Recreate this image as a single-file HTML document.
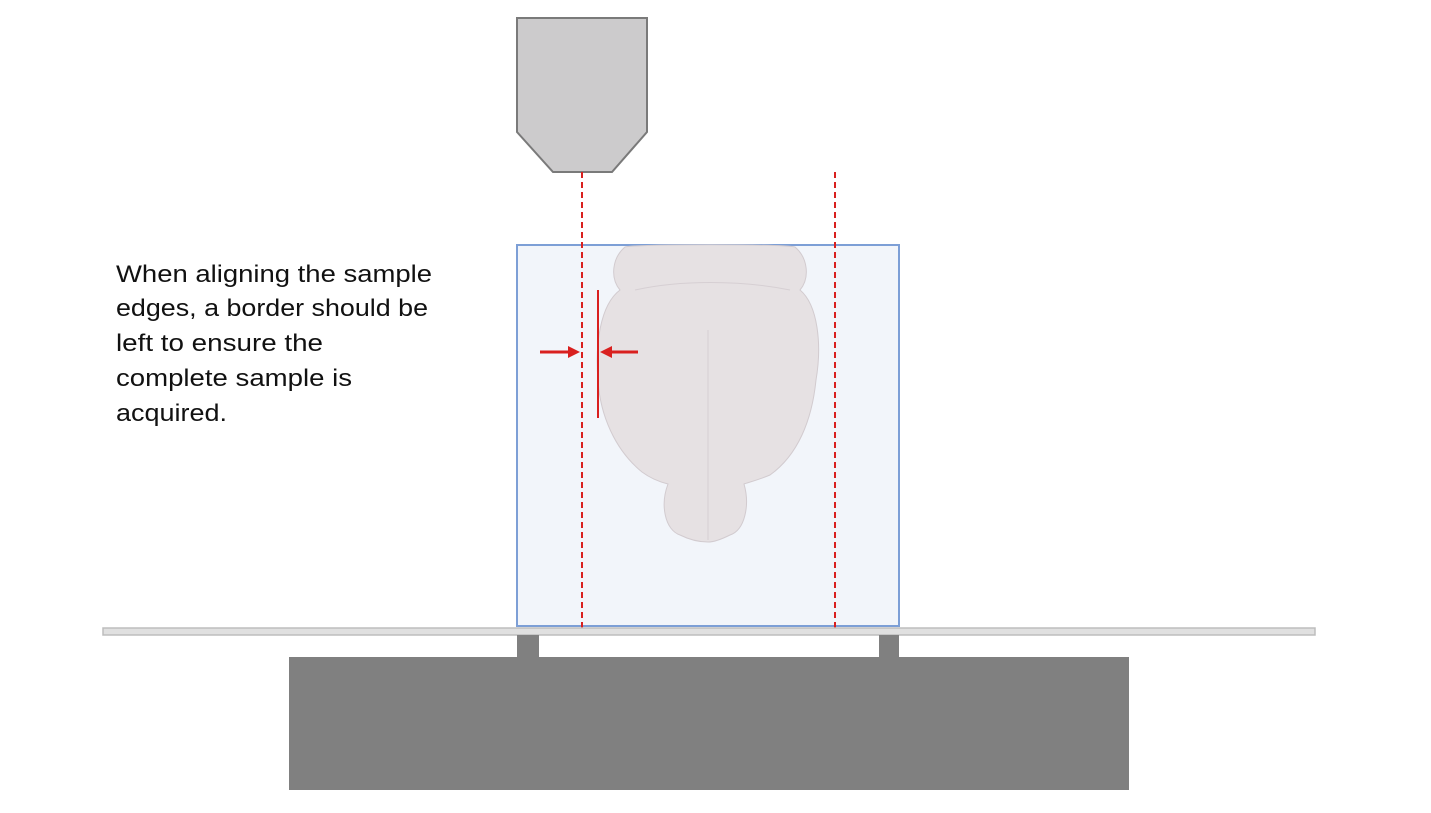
<!DOCTYPE html>
<html><head><meta charset="utf-8"><style>
html,body{margin:0;padding:0;background:#fff;}
svg{display:block;}
text{font-family:"Liberation Sans",sans-serif;}
</style></head><body>
<svg width="1431" height="813" viewBox="0 0 1431 813">
<polygon points="517,18 647,18 647,132 612,172 553,172 517,132" fill="#cccbcc" stroke="#7a7a7a" stroke-width="2"/>
<rect x="517" y="245" width="382" height="381" fill="#f2f5fa" stroke="#7d9fd6" stroke-width="2"/>
<g fill="#e6e1e3" stroke="#d2cbcf" stroke-width="1">
<path d="M625,247 C640,244 780,244 795,247 C808,258 810,278 800,290 C818,305 822,345 816,380 C812,420 798,455 770,475 C758,480 750,482 744,484 C750,505 745,530 730,535 C720,540 712,542 708,542 C700,542 690,540 680,535 C665,530 660,505 668,484 C660,482 650,478 642,472 C615,450 600,415 598,380 C595,345 600,305 620,290 C610,278 612,258 625,247 Z"/>
<path d="M708,330 L708,540" fill="none" stroke="#d6cfd3"/>
<path d="M635,290 C680,280 740,280 790,290" fill="none" stroke="#d6cfd3"/>
</g>
<line x1="582" y1="172" x2="582" y2="628" stroke="#d9201f" stroke-width="2" stroke-dasharray="6,4"/>
<line x1="835" y1="172" x2="835" y2="628" stroke="#d9201f" stroke-width="2" stroke-dasharray="6,4"/>
<line x1="598" y1="290" x2="598" y2="418" stroke="#d9201f" stroke-width="2"/>
<g fill="#d9201f" stroke="#d9201f">
<line x1="540" y1="352" x2="570" y2="352" stroke-width="3"/>
<polygon points="568,346 580,352 568,358" stroke="none"/>
<line x1="638" y1="352" x2="610" y2="352" stroke-width="3"/>
<polygon points="612,346 600,352 612,358" stroke="none"/>
</g>
<rect x="103" y="628" width="1212" height="7" fill="#e0e0e0" stroke="#bdbdbd" stroke-width="1.5"/>
<rect x="517" y="635" width="22" height="22" fill="#808080"/>
<rect x="879" y="635" width="20" height="22" fill="#808080"/>
<rect x="289" y="657" width="840" height="133" fill="#808080"/>
<g font-size="24" fill="#111">
<text x="116" y="282" textLength="316" lengthAdjust="spacingAndGlyphs">When aligning the sample</text>
<text x="116" y="316" textLength="312" lengthAdjust="spacingAndGlyphs">edges, a border should be</text>
<text x="116" y="351" textLength="207" lengthAdjust="spacingAndGlyphs">left to ensure the</text>
<text x="116" y="386" textLength="236" lengthAdjust="spacingAndGlyphs">complete sample is</text>
<text x="116" y="421" textLength="111" lengthAdjust="spacingAndGlyphs">acquired.</text>
</g>
</svg>
</body></html>
